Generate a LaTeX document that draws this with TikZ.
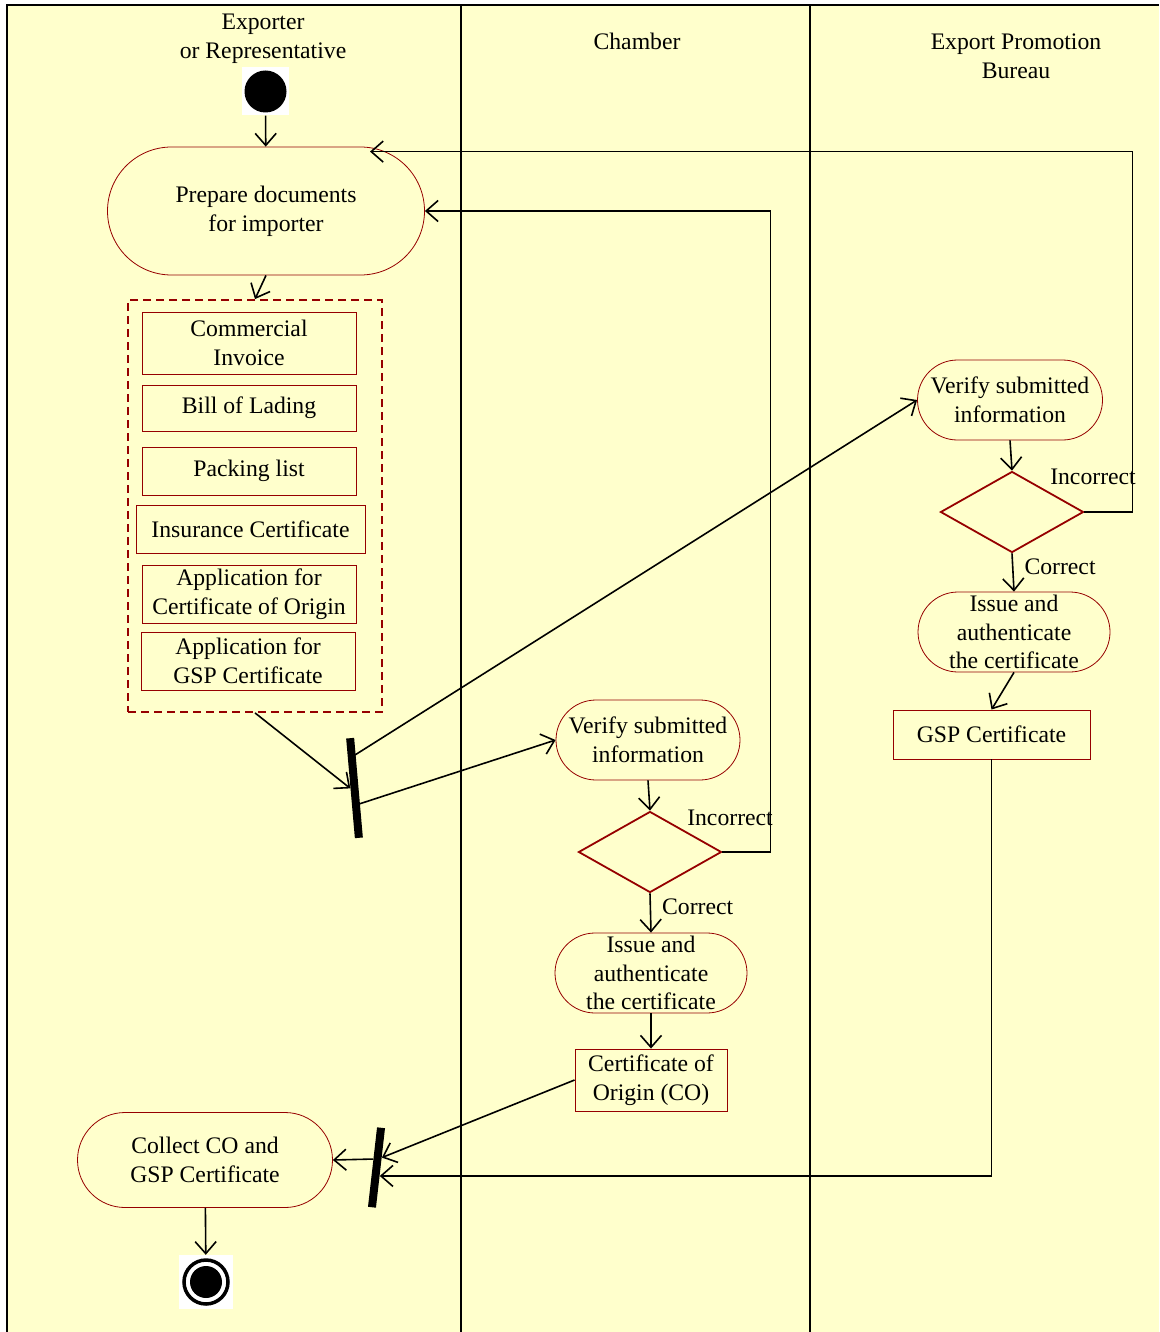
\documentclass[tikz,border=0pt]{standalone}
\usepackage{fontspec}
\setmainfont{Liberation Serif}
\usetikzlibrary{arrows.meta,positioning,calc,shapes.geometric}

\definecolor{lanebg}{RGB}{255,255,204}
\definecolor{actred}{RGB}{150,0,0}

\tikzset{
  flow/.style={line width=1.6pt, -{Straight Barb[length=12pt,width=21pt]}},
  lane/.style={line width=2.2pt},
  activity/.style 2 args={draw=actred, line width=0.8pt, rectangle, align=center,
    minimum width=#1, minimum height=#2, rounded corners=0.5*#2,
    inner xsep=2pt, inner ysep=-4pt},
  docbox/.style={draw=actred, line width=0.9pt, rectangle, align=center},
  decision/.style={diamond, draw=actred, line width=1.8pt, minimum width=143pt,
    minimum height=81pt, inner sep=0pt},
  forkbar/.style={rectangle, fill=black, minimum width=8pt, inner sep=0pt},
}

\begin{document}
\begin{tikzpicture}[x=1pt, y=-1pt, font=\fontsize{23.7}{28.7}\selectfont]
  \useasboundingbox (0,0) rectangle (1159,1332);
  % lanes: background, frame and dividers
  \fill[lanebg] (7,5) rectangle (1159,1332);
  \draw[lane] (7,1332) -- (7,5) -- (1159,5);
  \foreach \x in {461,810} {
    \draw[lane] (\x,5) -- (\x,1332);
  }
  \node[align=center] (hexp) at (263,38.5) {Exporter\\or Representative};
  \node (hcham) at (637,41) {Chamber};
  \node[align=center] (hepb) at (1016,56) {Export Promotion\\Bureau};

  % start and end states
  \node[fill=white, minimum width=47pt, minimum height=48pt, inner sep=0pt] (startbox) at (265.5,91.5) {};
  \fill (startbox.center) circle (21pt);
  \node[fill=white, minimum width=54pt, minimum height=54pt, inner sep=0pt] (endbox) at (206,1282) {};
  \draw[line width=3.5pt] (endbox.center) circle (22pt);
  \fill (endbox.center) circle (16pt);

  % exporter lane
  \node[activity={317pt}{128pt}] (prep) at (266,211) {Prepare documents\\for importer};
  \node[draw=actred, dashed, dash pattern=on 8pt off 5pt, line width=1.8pt,
    minimum width=254pt, minimum height=412pt] (docs) at (255,506) {};
  \foreach \nm/\cx/\cy/\w/\h/\txt in {
      comm/249/343/214/62/{Commercial\\Invoice},
      bill/249/408/214/46/{Bill of Lading},
      pack/249/471/214/48/{Packing list},
      ins/250.5/529/229/48/{Insurance Certificate},
      appco/249/594/214/58/{Application for\\Certificate of Origin},
      appgsp/248/661/214/58/{Application for\\GSP Certificate}} {
    \node[docbox, minimum width=\w, minimum height=\h] (\nm) at (\cx,\cy) {\txt};
  }
  \node[forkbar, minimum height=100pt, rotate=5] (bar1) at (354.5,788) {};
  \node[forkbar, minimum height=80pt, rotate=-6.5] (bar2) at (376.5,1167.5) {};
  \node[activity={255pt}{95pt}] (coll) at (205,1160) {Collect CO and\\GSP Certificate};

  % chamber lane
  \node[activity={184pt}{80pt}] (verC) at (648,740) {Verify submitted\\information};
  \node[decision] (decC) at (650,852) {};
  \node[activity={192pt}{80pt}] (issC) at (651,973) {Issue and\\authenticate\\the certificate};
  \node[docbox, minimum width=152pt, minimum height=62pt] (co) at (651,1080) {Certificate of\\Origin (CO)};
  \node (lblIncC) at (730,818) {Incorrect};

  % export promotion bureau lane
  \node[activity={185pt}{80pt}] (verE) at (1010,400) {Verify submitted\\information};
  \node[decision] (decE) at (1012,512) {};
  \node[activity={192pt}{80pt}] (issE) at (1014,632) {Issue and\\authenticate\\the certificate};
  \node[docbox, minimum width=197pt, minimum height=49pt] (gsp) at (991.5,734.5) {GSP Certificate};
  \node (lblIncE) at (1093,477) {Incorrect};

  % flows
  \draw[flow] (startbox) -- (prep);
  \draw[flow] (prep.south) -- (docs.north);
  \draw[flow] (docs.south) -- (bar1.west);
  \draw[flow] ($(bar1.north)!0.19!(bar1.south)$) -- (verE.west);
  \draw[flow] ($(bar1.north)!0.67!(bar1.south)$) -- (verC.west);
  \draw[flow] (verC.south) -- (decC.north);
  \draw[flow] (decC.south) -- node[right, pos=0.35, inner sep=2pt, xshift=9pt] (lblCorC) {Correct} (issC.north);
  \draw[flow] (decC.east) -- ++(48,0) |- (prep.east);
  \draw[flow] (issC.south) -- (co.north);
  \draw[flow] (verE.south) -- (decE.north);
  \draw[flow] (decE.south) -- node[right, pos=0.35, inner sep=2pt, xshift=9pt] (lblCorE) {Correct} (issE.north);
  \draw[flow] (decE.east) -- ++(48,0) |- ([xshift=104pt, yshift=-5pt]prep.north);
  \draw[flow] (issE.south) -- (gsp.north);
  \draw[flow] (gsp.south) |- ($(bar2.north east)!0.6!(bar2.south east)$);
  \draw[flow] (co.west) -- ($(bar2.north east)!0.37!(bar2.south east)$);
  \draw[flow] ($(bar2.north west)!0.4!(bar2.south west)$) -- (coll.east);
  \draw[flow] (coll) -- (endbox);
\end{tikzpicture}
\end{document}
